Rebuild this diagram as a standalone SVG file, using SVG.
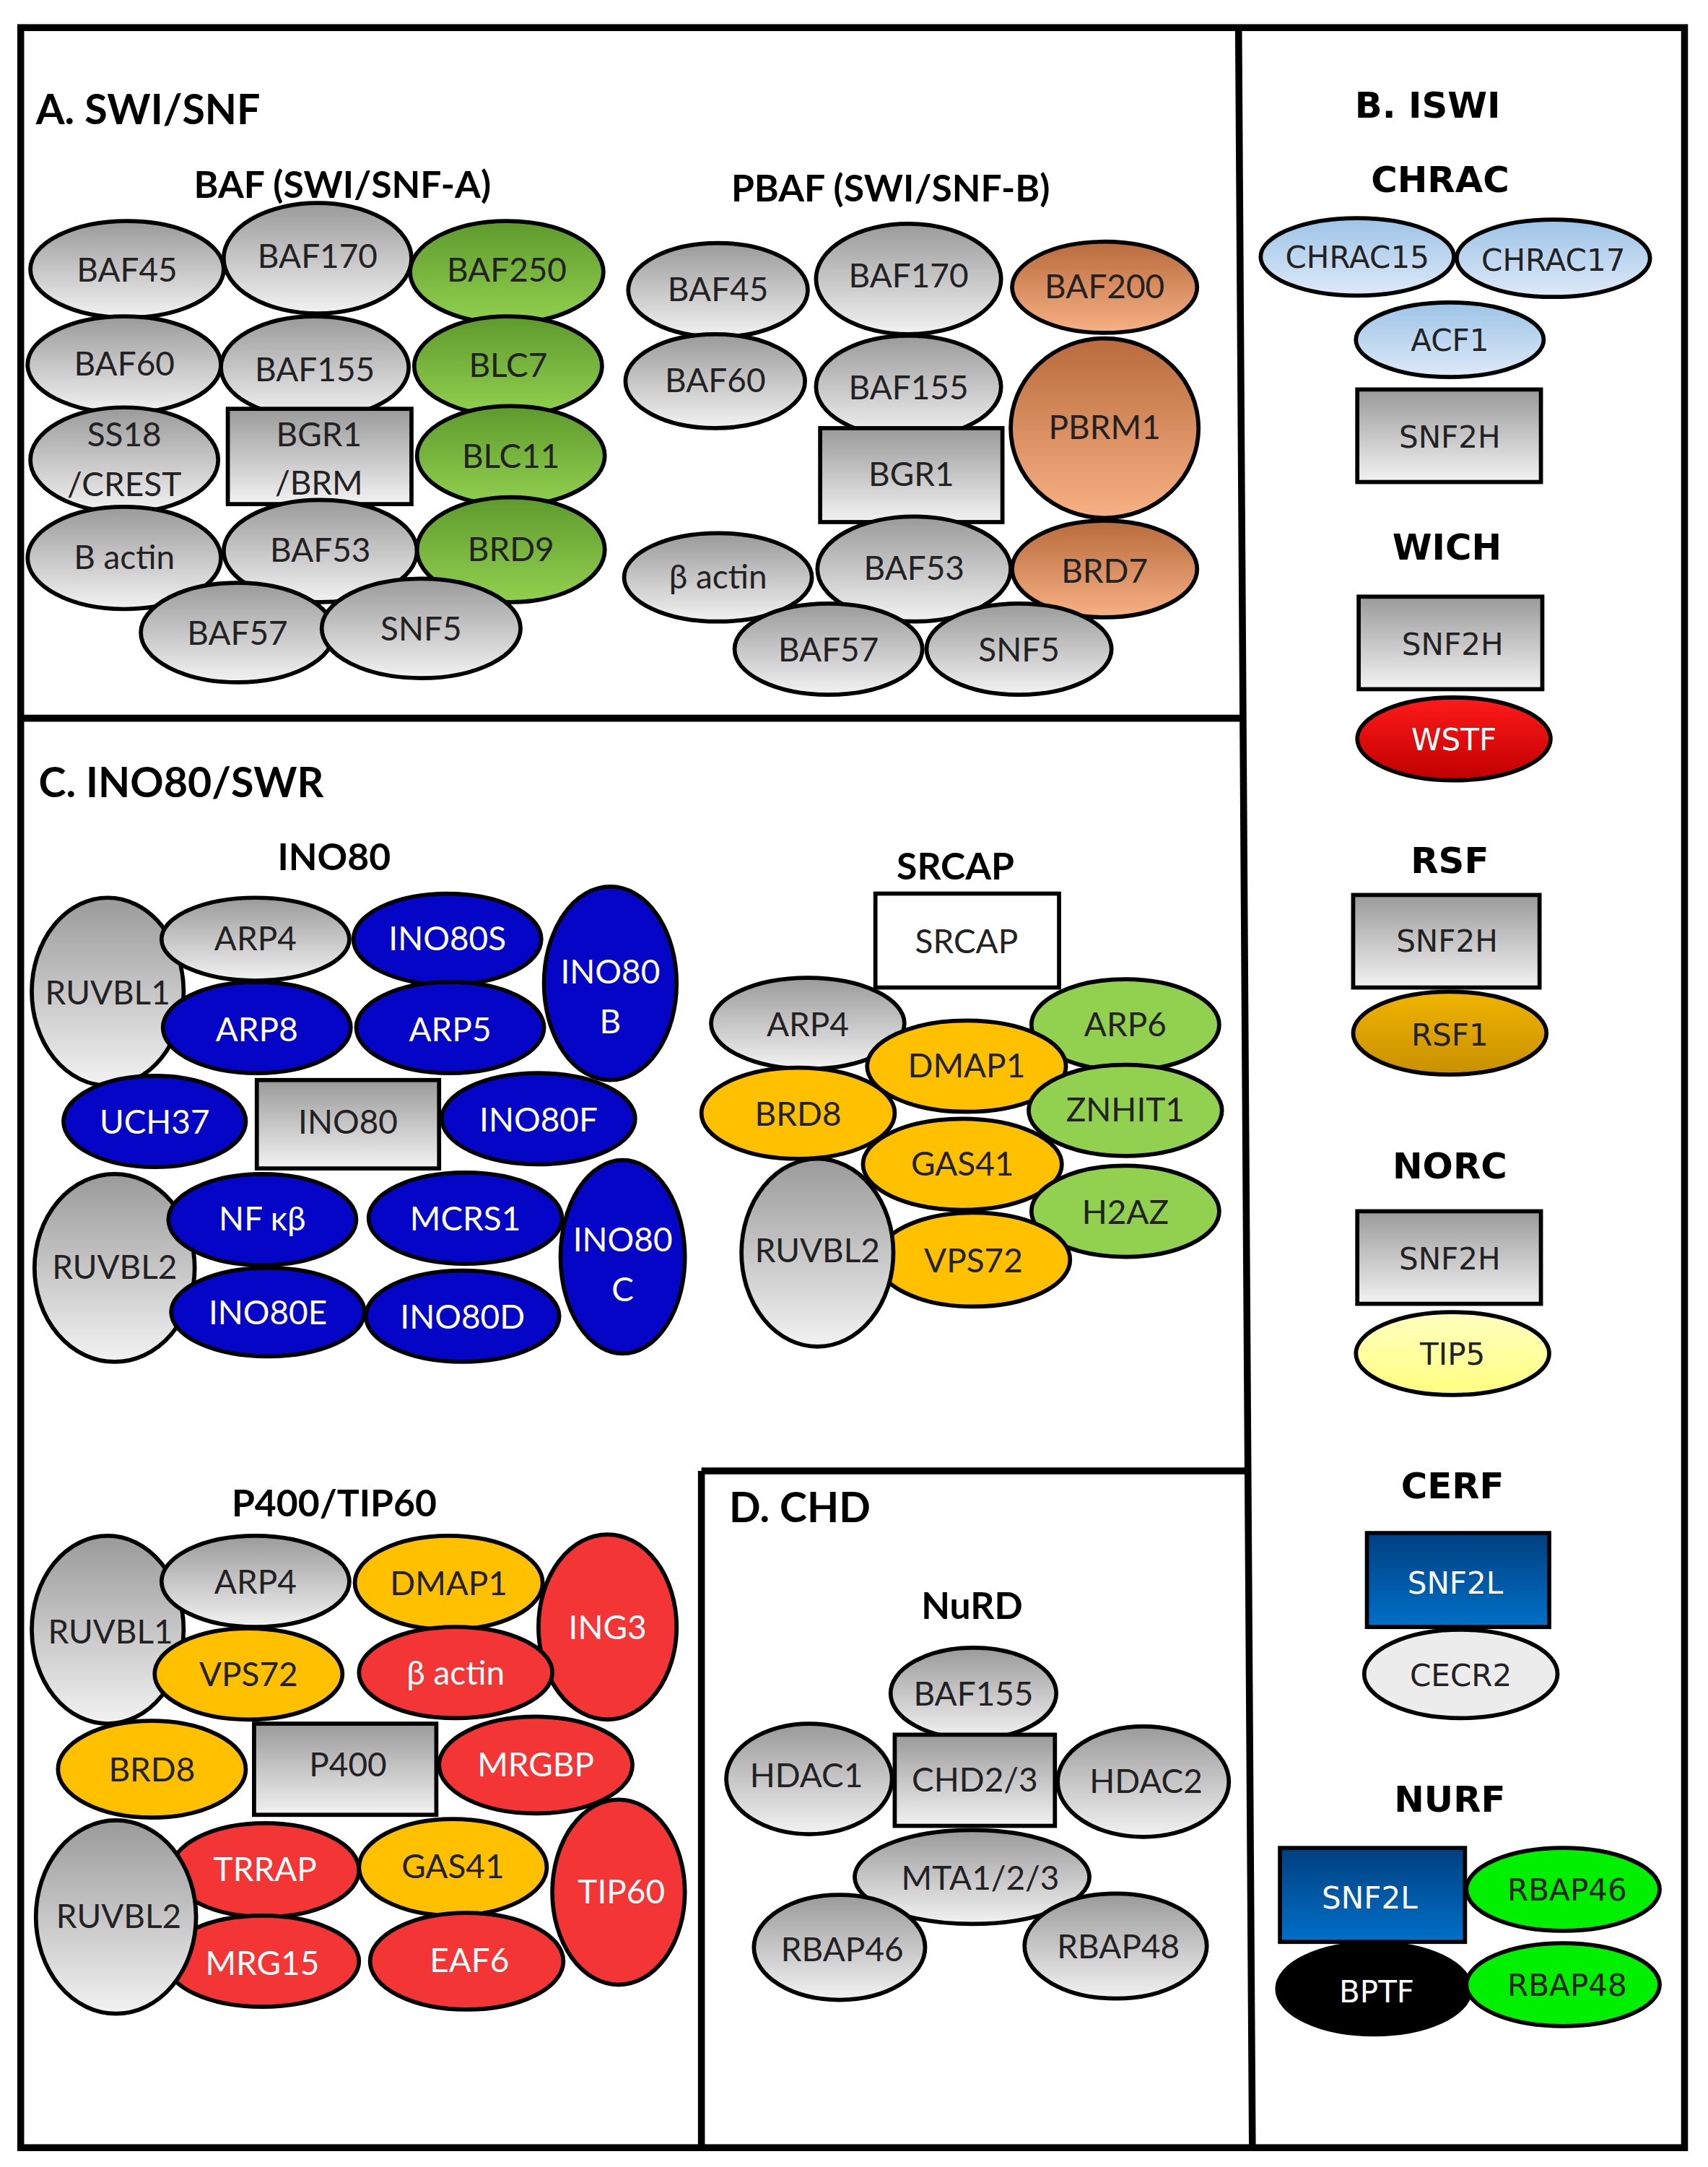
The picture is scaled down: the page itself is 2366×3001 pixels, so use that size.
<svg xmlns="http://www.w3.org/2000/svg" width="2366" height="3001" viewBox="0 0 2366 3001">
<defs>
<linearGradient id="gr" x1="0" y1="0" x2="0" y2="1"><stop offset="0" stop-color="#9a9a9a"/><stop offset="1" stop-color="#f2f2f2"/></linearGradient>
<linearGradient id="gn" x1="0" y1="0" x2="0" y2="1"><stop offset="0" stop-color="#5e9a2c"/><stop offset="1" stop-color="#92d050"/></linearGradient>
<linearGradient id="or" x1="0" y1="0" x2="0" y2="1"><stop offset="0" stop-color="#b86b3c"/><stop offset="1" stop-color="#f8b184"/></linearGradient>
<linearGradient id="lb" x1="0" y1="0" x2="0" y2="1"><stop offset="0" stop-color="#9dc3e6"/><stop offset="1" stop-color="#deeaf8"/></linearGradient>
<linearGradient id="rd" x1="0" y1="0" x2="0" y2="1"><stop offset="0" stop-color="#ff1a1a"/><stop offset="1" stop-color="#c00000"/></linearGradient>
<linearGradient id="gd" x1="0" y1="0" x2="0" y2="1"><stop offset="0" stop-color="#f0b400"/><stop offset="1" stop-color="#c89000"/></linearGradient>
<linearGradient id="bl" x1="0" y1="0" x2="0" y2="1"><stop offset="0" stop-color="#003f80"/><stop offset="1" stop-color="#0070c8"/></linearGradient>
<linearGradient id="py" x1="0" y1="0" x2="0" y2="1"><stop offset="0" stop-color="#ffffc0"/><stop offset="1" stop-color="#ffff80"/></linearGradient>
</defs>
<style>
ellipse,rect.n{stroke:#000;stroke-width:3}
text{font-family:Lato,"Open Sans",sans-serif;font-size:24px;text-anchor:middle;fill:#222}
.g{fill:url(#gr)}.gn{fill:url(#gn)}.or{fill:url(#or)}.b{fill:#0505c8}.y{fill:#ffc000}.lg{fill:#92d050}.r{fill:#f33535}
.w{fill:#fff}
.h{font-weight:bold;font-size:30px;text-anchor:start;fill:#000}
.t{font-weight:bold;font-size:27px;fill:#000}
.v{font-family:"DejaVu Sans",Verdana,sans-serif;font-size:22px}
.vt{font-family:"DejaVu Sans",Verdana,sans-serif;font-weight:bold;font-size:26px;fill:#000}
.ln{stroke:#000;stroke-width:5;fill:none}
</style>
<rect width="2366" height="3001" fill="#fff"/>
<g transform="scale(1.9127)">
<g id="frames">
<rect class="ln" x="15" y="20" width="1205" height="1535"/>
<line class="ln" x1="897" y1="20" x2="907" y2="1555"/>
<line class="ln" x1="15" y1="520" x2="900" y2="520"/>
<line class="ln" x1="508" y1="1065" x2="903" y2="1065"/>
<line class="ln" x1="508" y1="1065" x2="508" y2="1555"/>
</g>
<g id="titles">
<text class="h" x="26" y="90">A. SWI/SNF</text>
<text class="t" x="248" y="143">BAF (SWI/SNF-A)</text>
<text class="t" x="645" y="146">PBAF (SWI/SNF-B)</text>
<text class="h" x="28" y="577">C. INO80/SWR</text>
<text class="t" x="242" y="630">INO80</text>
<text class="t" x="692" y="637">SRCAP</text>
<text class="t" x="242" y="1098">P400/TIP60</text>
<text class="h" x="528" y="1102">D. CHD</text>
<text class="t" x="704" y="1172">NuRD</text>
<text class="vt" x="1034" y="85">B. ISWI</text>
<text class="vt" x="1043" y="139">CHRAC</text>
<text class="vt" x="1048" y="405">WICH</text>
<text class="vt" x="1050" y="632">RSF</text>
<text class="vt" x="1050" y="853">NORC</text>
<text class="vt" x="1052" y="1085">CERF</text>
<text class="vt" x="1050" y="1312">NURF</text>
</g>
<!-- BAF -->
<g id="baf">
<g id="baf45a"><ellipse class="g" cx="92" cy="195" rx="70" ry="35"/><text x="92" y="204">BAF45</text></g>
<g id="baf170a"><ellipse class="g" cx="230" cy="187" rx="68" ry="40"/><text x="230" y="194">BAF170</text></g>
<g id="baf250"><ellipse class="gn" cx="367" cy="197" rx="70" ry="37"/><text x="367" y="204">BAF250</text></g>
<g id="baf60a"><ellipse class="g" cx="90" cy="264" rx="70" ry="35"/><text x="90" y="272">BAF60</text></g>
<g id="baf155a"><ellipse class="g" cx="228" cy="266" rx="68" ry="37"/><text x="228" y="276">BAF155</text></g>
<g id="blc7"><ellipse class="gn" cx="368" cy="265" rx="68" ry="36"/><text x="368" y="273">BLC7</text></g>
<g id="ss18"><ellipse class="g" cx="90" cy="333" rx="68" ry="38"/><text x="90" y="323">SS18</text><text x="90" y="359">/CREST</text></g>
<g id="bgr1a"><rect class="n g" x="165" y="296" width="133" height="69"/><text x="231" y="323">BGR1</text><text x="231" y="358">/BRM</text></g>
<g id="blc11"><ellipse class="gn" cx="370" cy="330" rx="68" ry="36"/><text x="370" y="339">BLC11</text></g>
<g id="bactina"><ellipse class="g" cx="90" cy="404" rx="70" ry="37"/><text x="90" y="412">B actin</text></g>
<g id="baf53a"><ellipse class="g" cx="232" cy="399" rx="70" ry="37"/><text x="232" y="407">BAF53</text></g>
<g id="brd9"><ellipse class="gn" cx="370" cy="398" rx="68" ry="38"/><text x="370" y="406">BRD9</text></g>
<g id="baf57a"><ellipse class="g" cx="172" cy="458" rx="70" ry="36"/><text x="172" y="467">BAF57</text></g>
<g id="snf5a"><ellipse class="g" cx="305" cy="455" rx="72" ry="36"/><text x="305" y="464">SNF5</text></g>
</g>
<!-- PBAF -->
<g id="pbaf">
<g id="baf45b"><ellipse class="g" cx="520" cy="210" rx="65" ry="34"/><text x="520" y="218">BAF45</text></g>
<g id="baf170b"><ellipse class="g" cx="658" cy="202" rx="67" ry="40"/><text x="658" y="208">BAF170</text></g>
<g id="baf200"><ellipse class="or" cx="800" cy="208" rx="67" ry="33"/><text x="800" y="216">BAF200</text></g>
<g id="baf60b"><ellipse class="g" cx="518" cy="276" rx="65" ry="34"/><text x="518" y="284">BAF60</text></g>
<g id="baf155b"><ellipse class="g" cx="658" cy="280" rx="67" ry="37"/><text x="658" y="289">BAF155</text></g>
<g id="pbrm1"><ellipse class="or" cx="800" cy="310" rx="68" ry="65"/><text x="800" y="318">PBRM1</text></g>
<g id="bgr1b"><rect class="n g" x="594" y="310" width="132" height="68"/><text x="660" y="352">BGR1</text></g>
<g id="bactinb"><ellipse class="g" cx="520" cy="418" rx="68" ry="32"/><text x="520" y="426">β actin</text></g>
<g id="baf53b"><ellipse class="g" cx="662" cy="412" rx="70" ry="38"/><text x="662" y="420">BAF53</text></g>
<g id="brd7"><ellipse class="or" cx="800" cy="412" rx="67" ry="35"/><text x="800" y="422">BRD7</text></g>
<g id="baf57b"><ellipse class="g" cx="600" cy="470" rx="68" ry="33"/><text x="600" y="479">BAF57</text></g>
<g id="snf5b"><ellipse class="g" cx="738" cy="470" rx="67" ry="33"/><text x="738" y="479">SNF5</text></g>
</g>
<!-- INO80 -->
<g id="ino80c">
<g id="ruvbl1a"><ellipse class="g" cx="78" cy="718" rx="55" ry="68"/><text x="78" y="727">RUVBL1</text></g>
<g id="arp4a"><ellipse class="g" cx="185" cy="680" rx="68" ry="30"/><text x="185" y="688">ARP4</text></g>
<g id="ino80s"><ellipse class="b" cx="324" cy="680" rx="68" ry="33"/><text class="w" x="324" y="688">INO80S</text></g>
<g id="ino80b"><ellipse class="b" cx="442" cy="712" rx="48" ry="70"/><text class="w" x="442" y="712">INO80</text><text class="w" x="442" y="748">B</text></g>
<g id="arp8"><ellipse class="b" cx="186" cy="744" rx="68" ry="33"/><text class="w" x="186" y="754">ARP8</text></g>
<g id="arp5"><ellipse class="b" cx="326" cy="744" rx="68" ry="33"/><text class="w" x="326" y="754">ARP5</text></g>
<g id="uch37"><ellipse class="b" cx="112" cy="812" rx="66" ry="33"/><text class="w" x="112" y="821">UCH37</text></g>
<g id="ino80r"><rect class="n g" x="186" y="782" width="132" height="64"/><text x="252" y="821">INO80</text></g>
<g id="ino80f"><ellipse class="b" cx="390" cy="810" rx="70" ry="33"/><text class="w" x="390" y="819">INO80F</text></g>
<g id="ruvbl2a"><ellipse class="g" cx="83" cy="918" rx="58" ry="68"/><text x="83" y="926">RUVBL2</text></g>
<g id="nfkb"><ellipse class="b" cx="190" cy="883" rx="68" ry="33"/><text class="w" x="190" y="891">NF κβ</text></g>
<g id="mcrs1"><ellipse class="b" cx="337" cy="882" rx="70" ry="33"/><text class="w" x="337" y="891">MCRS1</text></g>
<g id="ino80cc"><ellipse class="b" cx="451" cy="910" rx="45" ry="70"/><text class="w" x="451" y="906">INO80</text><text class="w" x="451" y="942">C</text></g>
<g id="ino80e"><ellipse class="b" cx="194" cy="950" rx="70" ry="32"/><text class="w" x="194" y="959">INO80E</text></g>
<g id="ino80d"><ellipse class="b" cx="335" cy="953" rx="70" ry="33"/><text class="w" x="335" y="962">INO80D</text></g>
</g>
<!-- SRCAP -->
<g id="srcapc">
<g id="srcap"><rect class="n" fill="#fff" x="634" y="647" width="133" height="68"/><text x="700" y="690">SRCAP</text></g>
<g id="arp4b"><ellipse class="g" cx="585" cy="741" rx="70" ry="33"/><text x="585" y="750">ARP4</text></g>
<g id="arp6"><ellipse class="lg" cx="815" cy="742" rx="68" ry="33"/><text x="815" y="750">ARP6</text></g>
<g id="dmap1a"><ellipse class="y" cx="700" cy="772" rx="72" ry="33"/><text x="700" y="780">DMAP1</text></g>
<g id="brd8a"><ellipse class="y" cx="578" cy="806" rx="70" ry="33"/><text x="578" y="815">BRD8</text></g>
<g id="znhit1"><ellipse class="lg" cx="815" cy="804" rx="70" ry="33"/><text x="815" y="812">ZNHIT1</text></g>
<g id="gas41a"><ellipse class="y" cx="697" cy="843" rx="72" ry="33"/><text x="697" y="851">GAS41</text></g>
<g id="h2az"><ellipse class="lg" cx="815" cy="877" rx="68" ry="33"/><text x="815" y="886">H2AZ</text></g>
<g id="vps72a"><ellipse class="y" cx="705" cy="912" rx="70" ry="34"/><text x="705" y="921">VPS72</text></g>
<g id="ruvbl2b"><ellipse class="g" cx="592" cy="907" rx="55" ry="68"/><text x="592" y="914">RUVBL2</text></g>
</g>
<!-- P400 -->
<g id="p400c">
<g id="ruvbl1b"><ellipse class="g" cx="78" cy="1180" rx="55" ry="68"/><text x="80" y="1190">RUVBL1</text></g>
<g id="arp4c"><ellipse class="g" cx="185" cy="1145" rx="68" ry="33"/><text x="185" y="1154">ARP4</text></g>
<g id="dmap1b"><ellipse class="y" cx="325" cy="1146" rx="68" ry="34"/><text x="325" y="1155">DMAP1</text></g>
<g id="ing3"><ellipse class="r" cx="440" cy="1178" rx="50" ry="67"/><text class="w" x="440" y="1187">ING3</text></g>
<g id="vps72b"><ellipse class="y" cx="180" cy="1212" rx="68" ry="33"/><text x="180" y="1221">VPS72</text></g>
<g id="bactinc"><ellipse class="r" cx="330" cy="1211" rx="70" ry="33"/><text class="w" x="330" y="1220">β actin</text></g>
<g id="brd8b"><ellipse class="y" cx="110" cy="1281" rx="68" ry="35"/><text x="110" y="1290">BRD8</text></g>
<g id="p400"><rect class="n g" x="184" y="1248" width="132" height="66"/><text x="252" y="1286">P400</text></g>
<g id="mrgbp"><ellipse class="r" cx="388" cy="1278" rx="70" ry="35"/><text class="w" x="388" y="1286">MRGBP</text></g>
<g id="trrap"><ellipse class="r" cx="192" cy="1354" rx="68" ry="34"/><text class="w" x="192" y="1362">TRRAP</text></g>
<g id="gas41b"><ellipse class="y" cx="328" cy="1352" rx="68" ry="35"/><text x="328" y="1360">GAS41</text></g>
<g id="tip60"><ellipse class="r" cx="448" cy="1370" rx="48" ry="67"/><text class="w" x="450" y="1378">TIP60</text></g>
<g id="mrg15"><ellipse class="r" cx="190" cy="1420" rx="70" ry="33"/><text class="w" x="190" y="1430">MRG15</text></g>
<g id="eaf6"><ellipse class="r" cx="338" cy="1420" rx="70" ry="35"/><text class="w" x="340" y="1428">EAF6</text></g>
<g id="ruvbl2c"><ellipse class="g" cx="84" cy="1388" rx="58" ry="70"/><text x="86" y="1396">RUVBL2</text></g>
</g>
<!-- NuRD -->
<g id="nurd">
<g id="baf155c"><ellipse class="g" cx="705" cy="1226" rx="60" ry="33"/><text x="705" y="1235">BAF155</text></g>
<g id="hdac1"><ellipse class="g" cx="586" cy="1288" rx="60" ry="40"/><text x="584" y="1294">HDAC1</text></g>
<g id="hdac2"><ellipse class="g" cx="828" cy="1290" rx="62" ry="40"/><text x="830" y="1298">HDAC2</text></g>
<g id="chd23"><rect class="n g" x="648" y="1256" width="116" height="66"/><text x="706" y="1297">CHD2/3</text></g>
<g id="mta"><ellipse class="g" cx="704" cy="1359" rx="85" ry="34"/><text x="710" y="1368">MTA1/2/3</text></g>
<g id="rbap46a"><ellipse class="g" cx="608" cy="1410" rx="62" ry="38"/><text x="610" y="1420">RBAP46</text></g>
<g id="rbap48a"><ellipse class="g" cx="808" cy="1409" rx="66" ry="38"/><text x="810" y="1418">RBAP48</text></g>
</g>
<!-- ISWI -->
<g id="iswi">
<g id="chrac15"><ellipse fill="url(#lb)" cx="983" cy="186" rx="70" ry="28"/><text class="v" x="983" y="194">CHRAC15</text></g>
<g id="chrac17"><ellipse fill="url(#lb)" cx="1125" cy="187" rx="70" ry="28"/><text class="v" x="1125" y="196">CHRAC17</text></g>
<g id="acf1"><ellipse fill="url(#lb)" cx="1050" cy="246" rx="68" ry="27"/><text class="v" x="1050" y="254">ACF1</text></g>
<g id="snf2h1"><rect class="n g" x="983" y="282" width="133" height="67"/><text class="v" x="1050" y="324">SNF2H</text></g>
<g id="snf2h2"><rect class="n g" x="984" y="432" width="133" height="67"/><text class="v" x="1052" y="474">SNF2H</text></g>
<g id="wstf"><ellipse fill="url(#rd)" cx="1053" cy="535" rx="70" ry="30"/><text class="v w" x="1053" y="543">WSTF</text></g>
<g id="snf2h3"><rect class="n g" x="980" y="648" width="135" height="67"/><text class="v" x="1048" y="689">SNF2H</text></g>
<g id="rsf1"><ellipse fill="url(#gd)" cx="1050" cy="748" rx="70" ry="30"/><text class="v" x="1050" y="757">RSF1</text></g>
<g id="snf2h4"><rect class="n g" x="983" y="877" width="133" height="67"/><text class="v" x="1050" y="919">SNF2H</text></g>
<g id="tip5"><ellipse fill="url(#py)" cx="1052" cy="980" rx="70" ry="30"/><text class="v" x="1052" y="988">TIP5</text></g>
<g id="cecr2"><ellipse fill="#ececec" cx="1058" cy="1212" rx="70" ry="32"/><text class="v" x="1058" y="1221">CECR2</text></g>
<g id="snf2l1"><rect class="n" fill="url(#bl)" x="990" y="1110" width="132" height="68"/><text class="v w" x="1054" y="1154">SNF2L</text></g>
<g id="bptf"><ellipse fill="#000" cx="995" cy="1440" rx="70" ry="33"/><text class="v w" x="997" y="1450">BPTF</text></g>
<g id="snf2l2"><rect class="n" fill="url(#bl)" x="927" y="1338" width="134" height="68"/><text class="v w" x="992" y="1382">SNF2L</text></g>
<g id="rbap46b"><ellipse fill="#00f000" cx="1132" cy="1368" rx="70" ry="30"/><text class="v" x="1135" y="1376">RBAP46</text></g>
<g id="rbap48b"><ellipse fill="#00f000" cx="1132" cy="1437" rx="70" ry="30"/><text class="v" x="1135" y="1445">RBAP48</text></g>
</g>
<g id="connectors"/>
</g>
</svg>
